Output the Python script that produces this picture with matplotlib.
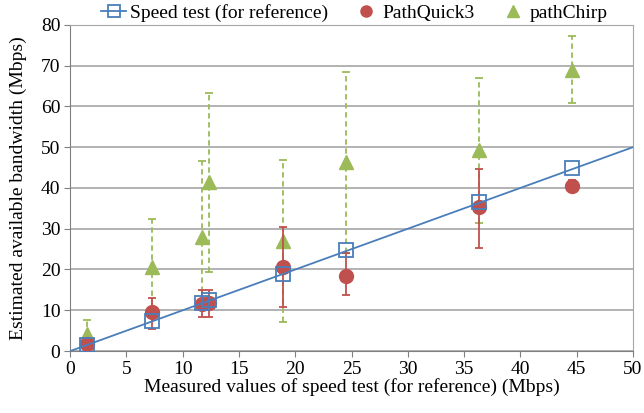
import numpy as np
import matplotlib.pyplot as plt

plt.rcParams['font.family'] = ['Liberation Serif', 'DejaVu Serif']

x = [1.5, 7.3, 11.7, 12.3, 18.9, 24.5, 36.3, 44.6]
speed = [1.6, 7.4, 11.8, 12.4, 19.0, 24.7, 36.5, 44.8]
pq = [1.8, 9.5, 11.5, 11.8, 20.7, 18.5, 35.2, 40.5]
pq_lo = [1.2, 5.5, 8.3, 8.3, 10.8, 13.7, 25.3, 39.2]
pq_hi = [2.5, 13.0, 15.0, 15.0, 30.4, 24.0, 44.6, 42.0]
pc = [4.3, 20.5, 28.0, 41.5, 27.0, 46.3, 49.3, 69.0]
pc_lo = [1.5, 9.0, 10.0, 19.5, 7.1, 24.0, 31.4, 60.8]
pc_hi = [7.7, 32.5, 46.5, 63.3, 46.9, 68.5, 67.0, 77.3]
ref_line = [0, 50]

blue = '#4A7EBB'
red = '#C0504D'
green = '#9BBB59'

fig = plt.figure(figsize=(6.44, 4.13), dpi=100)
ax = fig.add_axes([0.109, 0.150, 0.874, 0.790])

pq = np.array(pq); pc = np.array(pc)
pq_err = [pq - np.array(pq_lo), np.array(pq_hi) - pq]
pc_err = [pc - np.array(pc_lo), np.array(pc_hi) - pc]

e2 = ax.errorbar(x, pc, yerr=pc_err, fmt='^', color=green, ms=10, ecolor=green,
                 elinewidth=1.3, capsize=3, capthick=1.3, zorder=3)
e2[2][0].set_linestyle((0, (3, 2)))
e1 = ax.errorbar(x, pq, yerr=pq_err, fmt='o', color=red, ms=10, ecolor=red,
                 elinewidth=1.3, capsize=3, capthick=1.3, zorder=4)
ax.plot(ref_line, ref_line, color=blue, lw=1.3, zorder=5)
ax.plot(x, speed, 's', ms=10, mfc='none', mec=blue, mew=1.3, zorder=6)

h1, = ax.plot([], [], '-s', color=blue, ms=8, mfc='none', mew=1.3, lw=1.3)
h2, = ax.plot([], [], 'o', color=red, ms=8)
h3, = ax.plot([], [], '^', color=green, ms=8)
fig.legend([h1, h2, h3], ['Speed test (for reference)', 'PathQuick3', 'pathChirp'],
           loc='center', bbox_to_anchor=(0.55, 0.968), ncol=3, frameon=False,
           fontsize=14, handlelength=1.3, handletextpad=0.2, columnspacing=1.3)

ax.set_xlim(0, 50)
ax.set_ylim(0, 80)
ax.set_xticks(range(0, 51, 5))
ax.set_yticks(range(0, 81, 10))
ax.grid(axis='y', color='#A6A6A6', lw=1.2)
ax.set_axisbelow(True)
for s in ax.spines.values():
    s.set_color('#A6A6A6')
ax.spines['left'].set_color('#808080')
ax.spines['bottom'].set_color('#808080')
ax.tick_params(labelsize=14, length=4, color='#808080', pad=3)
ax.set_xlabel('Measured values of speed test (for reference) (Mbps)', fontsize=14, labelpad=0)
ax.set_ylabel('Estimated available bandwidth (Mbps)', fontsize=14, labelpad=10)

fig.savefig('out.png', dpi=100)
